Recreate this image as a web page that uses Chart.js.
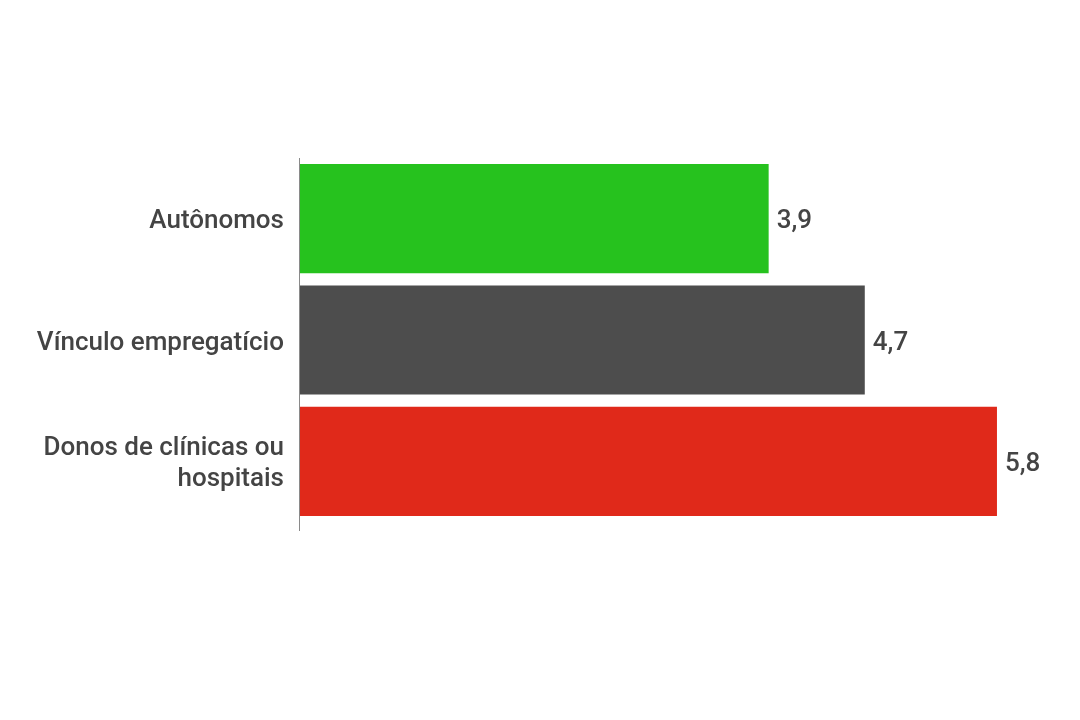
<!DOCTYPE html>
<html>
<head>
<meta charset="utf-8">
<script src="https://cdn.jsdelivr.net/npm/chart.js@4"></script>
<style>
  html, body { margin: 0; padding: 0; background: #fff; }
  #wrap { width: 1080px; height: 720px; }
</style>
</head>
<body>
<div id="wrap"><canvas id="barChart" width="1080" height="720"></canvas></div>
<script>
// Chart data
const categories = ['Autônomos', 'Vínculo empregatício', ['Donos de clínicas ou', 'hospitais']];
const values = [3.9, 4.7, 5.8];
const barColors = ['#26c21e', '#4d4d4d', '#e0291a'];
const xMax = 6;

const labelFont = '500 26px Roboto';
const textColor = '#444444';

// Category labels and value labels, placed from the scales
const textLabels = {
    id: 'textLabels',
    afterDatasetsDraw(chart) {
        const ctx = chart.ctx;
        const meta = chart.getDatasetMeta(0);
        const yScale = chart.scales.y;
        ctx.save();
        ctx.font = labelFont;
        ctx.fillStyle = textColor;
        ctx.textBaseline = 'middle';
        // category labels, right aligned next to the axis
        ctx.textAlign = 'right';
        categories.forEach((cat, i) => {
            const lines = Array.isArray(cat) ? cat : [cat];
            const yc = yScale.getPixelForValue(i) + 3;
            const lh = 31;
            lines.forEach((line, j) => {
                ctx.fillText(line, yScale.right - 16, yc + (j - (lines.length - 1) / 2) * lh);
            });
        });
        // values after each bar, with comma decimals
        ctx.textAlign = 'left';
        meta.data.forEach((bar, i) => {
            ctx.fillText(values[i].toFixed(1).replace('.', ','), bar.x + 8, bar.y + 3);
        });
        ctx.restore();
    }
};

// Vertical axis line, running a little past the last bar
const axisLine = {
    id: 'axisLine',
    afterDraw(chart) {
        const a = chart.chartArea;
        const ctx = chart.ctx;
        ctx.save();
        ctx.strokeStyle = '#8a8a8a';
        ctx.lineWidth = 1;
        ctx.beginPath();
        ctx.moveTo(a.left - 0.5, a.top);
        ctx.lineTo(a.left - 0.5, a.bottom + 9);
        ctx.stroke();
        ctx.restore();
    }
};

const ctx = document.getElementById('barChart').getContext('2d');
const chart = new Chart(ctx, {
    type: 'bar',
    data: {
        labels: categories,
        datasets: [{
            data: values,
            backgroundColor: barColors,
            borderWidth: 0,
            barPercentage: 0.9,
            categoryPercentage: 1.0
        }]
    },
    options: {
        indexAxis: 'y',
        responsive: false,
        animation: false,
        layout: {
            padding: { top: 158, bottom: 198, left: 0, right: 59 }
        },
        plugins: {
            legend: { display: false },
            tooltip: { enabled: false }
        },
        scales: {
            x: {
                min: 0,
                max: xMax,
                display: false
            },
            y: {
                grid: { display: false, drawTicks: false },
                border: { display: false },
                afterFit(scale) { scale.width = 300; },
                ticks: { display: false }
            }
        }
    },
    plugins: [textLabels, axisLine]
});
</script>
</body>
</html>
